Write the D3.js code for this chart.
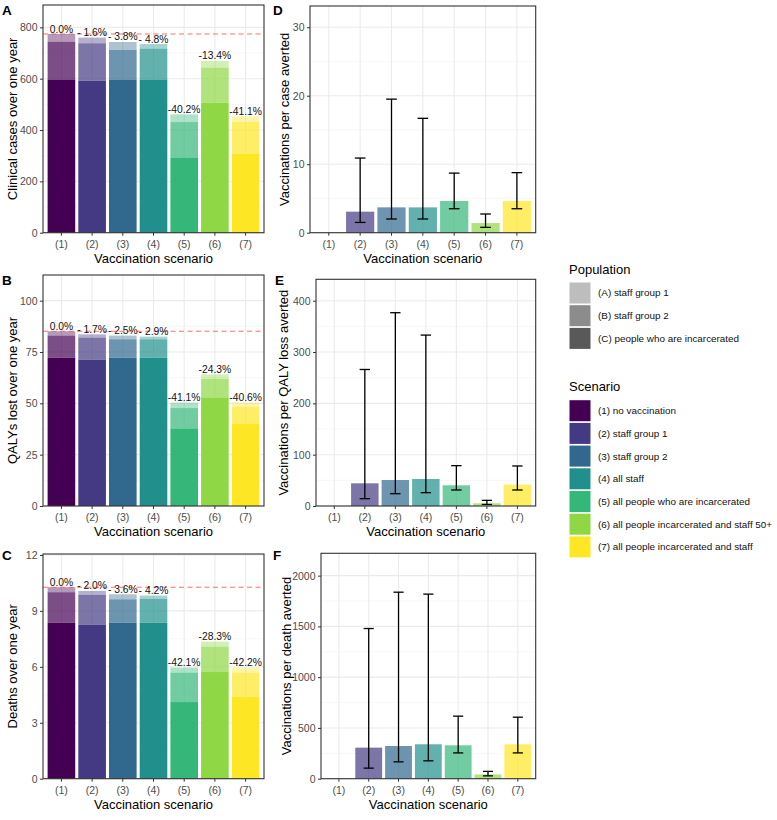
<!DOCTYPE html>
<html><head><meta charset="utf-8">
<script src="https://cdn.jsdelivr.net/npm/d3@7"></script>
<style>
body{margin:0;background:#fff;}
text{font-family:"Liberation Sans", Arial, sans-serif;}
</style>
</head><body><svg id="chart" width="777" height="820"></svg>
<script>
// ---------------- DATA ----------------
const scenarios = ["(1)", "(2)", "(3)", "(4)", "(5)", "(6)", "(7)"];
const scenarioNames = ["(1) no vaccination", "(2) staff group 1", "(3) staff group 2", "(4) all staff",
  "(5) all people who are incarcerated", "(6) all people incarcerated and staff 50+", "(7) all people incarcerated and staff"];
const scenarioColors = ["#440154", "#443A83", "#31688E", "#21908C", "#35B779", "#8FD744", "#FDE725"];
const populations = ["(A) staff group 1", "(B) staff group 2", "(C) people who are incarcerated"];
const populationKeys = ["#bdbdbd", "#8c8c8c", "#595959"];

// Clinical cases (segment values, stacked C bottom, B middle, A top)
const casesC = [597, 592, 597, 597, 291, 506, 309];
const casesB = [147, 146, 115, 120, 140, 137, 122];
const casesA = [30, 22, 31, 18, 30, 26, 22];
const casesBaseline = 774;
const casesLabels = ["0.0%", "- 1.6%", "- 3.8%", "- 4.8%", "-40.2%", "-13.4%", "-41.1%"];

// QALYs lost
const qalyC = [72.2, 71.3, 72.2, 72.2, 37.8, 52.9, 39.9];
const qalyB = [10.8, 10.7, 9.0, 9.0, 9.9, 9.0, 8.5];
const qalyA = [2.1, 1.6, 1.8, 1.3, 2.6, 2.2, 1.9];
const qalyBaseline = 85.1;
const qalyLabels = ["0.0%", "- 1.7%", "- 2.5%", "- 2.9%", "-41.1%", "-24.3%", "-40.6%"];

// Deaths
const deathsC = [8.37, 8.25, 8.37, 8.37, 4.11, 5.72, 4.38];
const deathsB = [1.63, 1.61, 1.25, 1.27, 1.58, 1.36, 1.31];
const deathsA = [0.27, 0.21, 0.27, 0.18, 0.27, 0.27, 0.27];
const deathsBaseline = 10.27;
const deathsLabels = ["0.0%", "- 2.0%", "- 3.6%", "- 4.2%", "-42.1%", "-28.3%", "-42.2%"];

// Vaccinations per outcome averted (value, lower, upper)
const perCase = [null, 3.07, 3.70, 3.70, 4.63, 1.41, 4.63];
const perCaseLow = [null, 1.5, 2.0, 2.0, 3.5, 0.78, 3.5];
const perCaseHigh = [null, 10.9, 19.5, 16.7, 8.7, 2.73, 8.77];

const perQaly = [null, 44.2, 50.6, 52.6, 40.3, 5.2, 41.6];
const perQalyLow = [null, 14.3, 24, 26, 31.2, 3, 31.2];
const perQalyHigh = [null, 266, 376.6, 333, 78.6, 11, 78];

const perDeath = [null, 306, 322, 339, 329, 42, 339];
const perDeathLow = [null, 104, 166, 176, 254, 28, 254];
const perDeathHigh = [null, 1479, 1837, 1818, 616, 72, 606];

// ---------------- DRAWING ----------------
const svg = d3.select("#chart");
const popAlpha = {C: 1, B: 0.7, A: 0.4};

function drawFrame(cfg) {
  const b = cfg.box;
  const x = d3.scaleBand().domain(scenarios).range([b.x0, b.x1]).paddingInner(0.1).paddingOuter(0.15);
  const y = d3.scaleLinear().domain([0, cfg.yMax]).range([b.y1, b.y0]);
  const g = svg.append("g");
  g.append("rect").attr("x", b.x0).attr("y", b.y0).attr("width", b.x1 - b.x0).attr("height", b.y1 - b.y0).attr("fill", "#fff");
  g.selectAll(".minor").data(cfg.minor).join("line")
    .attr("x1", b.x0).attr("x2", b.x1).attr("y1", d => y(d)).attr("y2", d => y(d))
    .attr("stroke", "#f2f2f2").attr("stroke-width", 0.6);
  g.selectAll(".major").data(cfg.major).join("line")
    .attr("x1", b.x0).attr("x2", b.x1).attr("y1", d => y(d)).attr("y2", d => y(d))
    .attr("stroke", "#ebebeb").attr("stroke-width", 1.1);
  g.selectAll(".xgrid").data(scenarios).join("line")
    .attr("x1", d => x(d) + x.bandwidth() / 2).attr("x2", d => x(d) + x.bandwidth() / 2)
    .attr("y1", b.y0).attr("y2", b.y1)
    .attr("stroke", "#ebebeb").attr("stroke-width", 1.1);
  return {g, x, y};
}

function finishFrame(p, cfg) {
  const b = cfg.box, g = p.g;
  const ya = g.append("g").attr("transform", `translate(${b.x0},0)`)
    .call(d3.axisLeft(p.y).tickValues(cfg.major).tickFormat(d3.format("d")).tickSize(3).tickPadding(2.5));
  const xa = g.append("g").attr("transform", `translate(0,${b.y1})`)
    .call(d3.axisBottom(p.x).tickSize(3).tickPadding(5));
  [ya, xa].forEach(a => {
    a.select(".domain").remove();
    a.selectAll(".tick line").attr("stroke", "#333").attr("stroke-width", 1);
    a.selectAll(".tick text").attr("fill", "#4d4d4d").style("font-size", "10.5px")
      .style("font-family", '"Liberation Sans", Arial, sans-serif');
  });
  g.append("rect").attr("x", b.x0).attr("y", b.y0).attr("width", b.x1 - b.x0).attr("height", b.y1 - b.y0)
    .attr("fill", "none").attr("stroke", "#333").attr("stroke-width", 1.1);
  g.append("text").attr("x", (b.x0 + b.x1) / 2).attr("y", b.y1 + 30).attr("text-anchor", "middle")
    .style("font-size", "13px").attr("fill", "#000").text("Vaccination scenario");
  g.append("text").attr("transform", `translate(${cfg.titleX},${(b.y0 + b.y1) / 2}) rotate(-90)`)
    .attr("text-anchor", "middle").attr("dy", "0.35em")
    .style("font-size", "13px").attr("fill", "#000").text(cfg.yTitle);
  g.append("text").attr("x", cfg.tagX).attr("y", cfg.tagY)
    .style("font-size", "13.5px").style("font-weight", "bold").attr("fill", "#000").text(cfg.tag);
}

function stackedPanel(cfg) {
  const p = drawFrame(cfg);
  const rows = scenarios.map((s, i) => ({s, i, C: cfg.C[i], B: cfg.B[i], A: cfg.A[i]}));
  const series = d3.stack().keys(["C", "B", "A"])(rows);
  series.forEach(ser => {
    p.g.append("g").selectAll("rect").data(ser).join("rect")
      .attr("x", d => p.x(d.data.s)).attr("width", p.x.bandwidth())
      .attr("y", d => p.y(d[1])).attr("height", d => p.y(d[0]) - p.y(d[1]))
      .attr("fill", d => scenarioColors[d.data.i]).attr("fill-opacity", popAlpha[ser.key]);
  });
  p.g.append("line").attr("x1", cfg.box.x0).attr("x2", cfg.box.x1)
    .attr("y1", p.y(cfg.baseline)).attr("y2", p.y(cfg.baseline))
    .attr("stroke", "#ff5555").attr("stroke-opacity", 0.85).attr("stroke-width", 1.1).attr("stroke-dasharray", "5,3.5");
  p.g.selectAll(".lbl").data(rows).join("text")
    .attr("x", d => p.x(d.s) + p.x.bandwidth() / 2)
    .attr("y", d => p.y(d.C + d.B + d.A) - 1.5)
    .attr("text-anchor", "middle").style("font-size", "10.3px").attr("fill", "#111")
    .text(d => cfg.labels[d.i]);
  finishFrame(p, cfg);
}

function errorPanel(cfg) {
  const p = drawFrame(cfg);
  const rows = scenarios.map((s, i) => ({s, i, v: cfg.v[i], lo: cfg.lo[i], hi: cfg.hi[i]})).filter(d => d.v !== null);
  p.g.selectAll(".bar").data(rows).join("rect")
    .attr("x", d => p.x(d.s)).attr("width", p.x.bandwidth())
    .attr("y", d => p.y(d.v)).attr("height", d => p.y(0) - p.y(d.v))
    .attr("fill", d => scenarioColors[d.i]).attr("fill-opacity", 0.7);
  const cap = p.x.step() * 0.17;
  const eg = p.g.append("g").attr("stroke", "#000").attr("stroke-width", 1.3);
  rows.forEach(d => {
    const cx = p.x(d.s) + p.x.bandwidth() / 2;
    eg.append("line").attr("x1", cx).attr("x2", cx).attr("y1", p.y(d.lo)).attr("y2", p.y(d.hi));
    eg.append("line").attr("x1", cx - cap).attr("x2", cx + cap).attr("y1", p.y(d.lo)).attr("y2", p.y(d.lo));
    eg.append("line").attr("x1", cx - cap).attr("x2", cx + cap).attr("y1", p.y(d.hi)).attr("y2", p.y(d.hi));
  });
  finishFrame(p, cfg);
}

stackedPanel({box: {x0: 43, x1: 264, y0: 5, y1: 232.7}, yMax: 887, major: [0, 200, 400, 600, 800], minor: [100, 300, 500, 700],
  C: casesC, B: casesB, A: casesA, baseline: casesBaseline, labels: casesLabels,
  yTitle: "Clinical cases over one year", titleX: 12, tag: "A", tagX: 2, tagY: 15});
stackedPanel({box: {x0: 43, x1: 264, y0: 275, y1: 506}, yMax: 112.5, major: [0, 25, 50, 75, 100], minor: [12.5, 37.5, 62.5, 87.5],
  C: qalyC, B: qalyB, A: qalyA, baseline: qalyBaseline, labels: qalyLabels,
  yTitle: "QALYs lost over one year", titleX: 12, tag: "B", tagX: 2, tagY: 285});
stackedPanel({box: {x0: 43, x1: 264, y0: 554, y1: 778.7}, yMax: 12.05, major: [0, 3, 6, 9, 12], minor: [1.5, 4.5, 7.5, 10.5],
  C: deathsC, B: deathsB, A: deathsA, baseline: deathsBaseline, labels: deathsLabels,
  yTitle: "Deaths over one year", titleX: 12, tag: "C", tagX: 2, tagY: 560});

errorPanel({box: {x0: 310, x1: 535.7, y0: 6, y1: 232.7}, yMax: 33.1, major: [0, 10, 20, 30], minor: [5, 15, 25],
  v: perCase, lo: perCaseLow, hi: perCaseHigh,
  yTitle: "Vaccinations per case averted", titleX: 284, tag: "D", tagX: 273, tagY: 15});
errorPanel({box: {x0: 316, x1: 535.7, y0: 279.3, y1: 506}, yMax: 441.7, major: [0, 100, 200, 300, 400], minor: [50, 150, 250, 350],
  v: perQaly, lo: perQalyLow, hi: perQalyHigh,
  yTitle: "Vaccinations per QALY loss averted", titleX: 283, tag: "E", tagX: 275, tagY: 285});
errorPanel({box: {x0: 321, x1: 535.7, y0: 553.3, y1: 778.7}, yMax: 2220, major: [0, 500, 1000, 1500, 2000], minor: [250, 750, 1250, 1750],
  v: perDeath, lo: perDeathLow, hi: perDeathHigh,
  yTitle: "Vaccinations per death averted", titleX: 286, tag: "F", tagX: 273, tagY: 560});

// ---------------- LEGENDS ----------------
function legend(title, labels, colors, titleY) {
  const g = svg.append("g");
  g.append("text").attr("x", 569).attr("y", titleY).attr("dy", "0.35em")
    .style("font-size", "13px").attr("fill", "#000").text(title);
  const pitch = 22.7, first = titleY + 24;
  g.selectAll("rect").data(labels).join("rect")
    .attr("x", 569.5).attr("y", (d, i) => first + i * pitch - 10.5)
    .attr("width", 21).attr("height", 21).attr("fill", (d, i) => colors[i]);
  g.selectAll(".lt").data(labels).join("text")
    .attr("x", 598).attr("y", (d, i) => first + i * pitch).attr("dy", "0.35em")
    .style("font-size", "9.9px").attr("fill", "#111").text(d => d);
}
legend("Population", populations, populationKeys, 269);
legend("Scenario", scenarioNames, scenarioColors, 386.7);
</script></body></html>
